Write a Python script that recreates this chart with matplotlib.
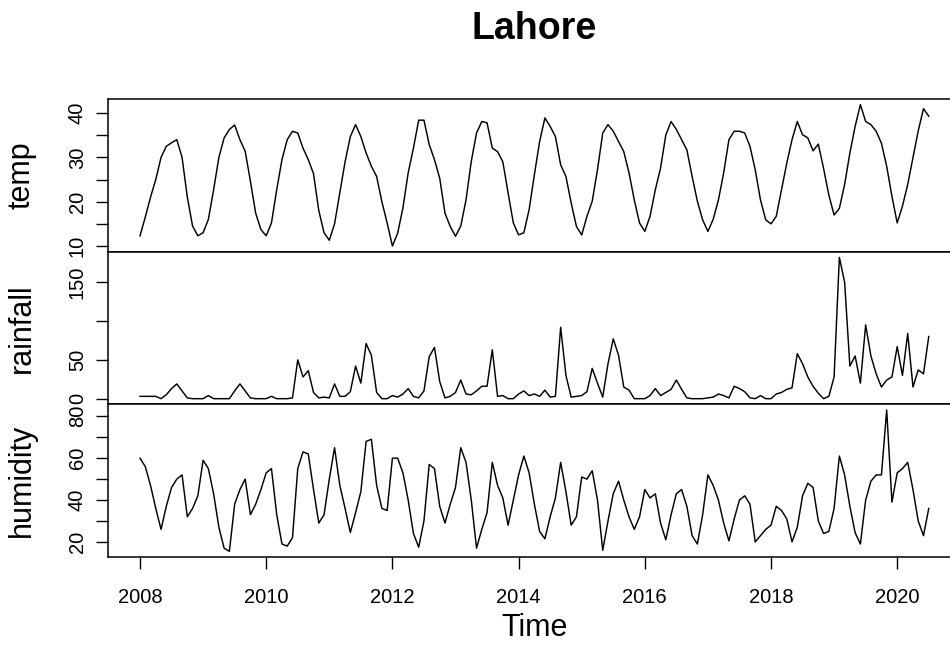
import numpy as np
import matplotlib.pyplot as plt

plt.rcParams['font.family'] = ['Liberation Sans', 'DejaVu Sans']

# monthly series, Jan 2008 .. Jul 2020
start_year = 2008
temp = [
    12.3, 16.5, 21.0, 25.0, 30.0, 32.5, 33.3, 34.0, 30.0, 21.0, 14.5, 12.3,
    13.0, 16.0, 22.7, 30.0, 34.4, 36.3, 37.3, 34.0, 31.4, 24.6, 17.4, 13.7,
    12.3, 15.2, 22.7, 29.5, 34.0, 35.9, 35.5, 32.1, 29.5, 26.3, 18.0, 13.0,
    11.3, 15.0, 22.0, 29.0, 34.7, 37.4, 34.7, 31.0, 28.0, 25.7, 20.0, 15.2,
    10.0, 12.9, 18.6, 26.5, 32.1, 38.4, 38.4, 32.9, 29.5, 25.3, 17.4, 14.4,
    12.2, 14.5, 20.4, 29.1, 35.5, 38.1, 37.8, 32.1, 31.3, 29.0, 22.0, 15.2,
    12.5, 13.0, 18.2, 26.1, 33.6, 38.9, 37.0, 34.7, 28.3, 25.7, 19.7, 14.4,
    12.5, 16.7, 20.1, 27.2, 35.5, 37.4, 35.9, 33.6, 31.3, 26.5, 20.4, 15.2,
    13.3, 16.7, 22.7, 27.6, 35.1, 38.1, 36.3, 34.0, 31.7, 25.7, 20.1, 15.9,
    13.3, 16.0, 20.4, 26.5, 34.0, 35.9, 35.9, 35.5, 32.5, 27.2, 20.4, 15.9,
    15.0, 16.7, 22.7, 28.7, 34.0, 38.1, 35.1, 34.4, 31.5, 33.0, 27.5, 21.5,
    17.0, 18.5, 23.9, 31.0, 37.0, 41.9, 38.1, 37.4, 35.9, 33.2, 28.0, 21.2,
    15.2, 19.0, 23.9, 30.0, 36.0, 41.0, 39.3,
]
rainfall = [
    3, 3, 3, 3, 0, 5, 13, 19, 10, 1, 0, 0,
    0, 4, 0, 0, 0, 0, 10, 19, 10, 1, 0, 0,
    0, 3, 0, 0, 0, 1, 50, 28, 36, 8, 1, 2,
    1, 19, 3, 3, 9, 42, 20, 71, 56, 8, 0, 0,
    4, 2, 6, 13, 3, 1, 10, 54, 66, 22, 1, 3,
    8, 24, 6, 5, 10, 16, 16, 63, 3, 4, 0, 0,
    6, 10, 4, 6, 3, 11, 2, 3, 92, 30, 2, 3,
    4, 9, 39, 20, 2, 45, 77, 56, 15, 11, 0, 0,
    0, 4, 13, 4, 8, 12, 24, 12, 1, 0, 0, 0,
    1, 2, 6, 4, 1, 16, 13, 9, 1, 0, 4, 0,
    0, 6, 8, 12, 14, 58, 45, 28, 16, 7, 0, 3,
    28, 182, 150, 42, 55, 20, 95, 55, 32, 15, 24, 28,
    67, 30, 84, 15, 37, 32, 80,
]
humidity = [
    60, 56, 47, 36, 26, 37, 46, 50, 52, 32, 36, 42,
    59, 55, 43, 27, 17, 15.5, 38, 45, 50, 33, 38, 45,
    53, 55, 33, 19, 18, 22, 55, 63, 62, 45, 29, 33,
    50, 65, 47, 36, 24.5, 34, 44, 68, 69, 47, 36, 35,
    60, 60, 53, 40, 24, 17.5, 30, 57, 55, 37, 29, 38,
    46, 65, 58, 40, 17, 26, 34, 58, 47, 41, 28, 40,
    52, 61, 53, 38, 25, 21.5, 32, 41, 58, 44, 28, 32,
    51, 50, 54, 40, 16, 30, 43, 49, 40, 32, 26, 32,
    45, 41, 43, 29, 21, 33, 43, 45, 37, 23, 19, 33,
    52, 47, 40, 29, 20.5, 31, 40, 42, 38, 20, 23, 26,
    28, 37, 35, 31, 20, 27, 42, 48, 46, 30, 24, 25,
    36, 61, 52, 37, 24.4, 19, 40, 49, 52, 52, 83, 39,
    53, 55, 58, 45, 30, 23, 36,
]

series_names = ["temp", "rainfall", "humidity"]
y_ticks = [
    [10, 15, 20, 25, 30, 35, 40],
    [0, 50, 100, 150],
    [20, 30, 40, 50, 60, 70, 80],
]
y_ticklabels = [
    ["10", "", "20", "", "30", "", "40"],
    ["0", "50", "", "150"],
    ["20", "", "40", "", "60", "", "80"],
]
x_ticks = [2008, 2010, 2012, 2014, 2016, 2018, 2020]

W, H = 950, 664
years = start_year + np.arange(len(temp)) / 12.0
xmin, xmax = years[0], years[-1]
xpad = 0.04 * (xmax - xmin)

fig = plt.figure(figsize=(W / 100, H / 100), dpi=100)

# plot region in pixels (right edge runs past the canvas)
left_px, right_px = 108.45, 960.3
top_px, bottom_px = 99.0, 557.0
panel_h = (bottom_px - top_px) / 3

axes = []
for k, (name, vals) in enumerate(zip(series_names, [temp, rainfall, humidity])):
    t = top_px + k * panel_h
    ax = fig.add_axes([left_px / W, 1 - (t + panel_h) / H,
                       (right_px - left_px) / W, panel_h / H])
    ax.plot(years, vals, color="black", lw=1.05)
    ax.set_xlim(xmin - xpad, xmax + xpad)
    lo, hi = min(vals), max(vals)
    pad = 0.04 * (hi - lo)
    ax.set_ylim(lo - pad, hi + pad)
    ax.set_yticks(y_ticks[k])
    ax.set_yticklabels(y_ticklabels[k], rotation=90, va="center")
    ax.tick_params(axis="y", length=8.5, width=1.0, labelsize=14.5, pad=7)
    for s in ax.spines.values():
        s.set_linewidth(1.1)
    if k < 2:
        ax.tick_params(axis="x", bottom=False, labelbottom=False)
    else:
        ax.set_xticks(x_ticks)
        ax.set_xticklabels([str(x) for x in x_ticks])
        ax.tick_params(axis="x", length=8.5, width=1.0, labelsize=14.5, pad=14)
    fig.text(21.5 / W, 1 - (t + panel_h / 2) / H, name, rotation=90,
             ha="center", va="center", fontsize=22)
    axes.append(ax)

cx = (left_px + right_px) / 2 / W
fig.text(cx, 1 - 39.3 / H, "Lahore", ha="center", va="baseline",
         fontsize=27, fontweight="bold")
fig.text(cx, 1 - 636 / H, "Time", ha="center", va="baseline", fontsize=22)

fig.savefig("out.png", dpi=100)
